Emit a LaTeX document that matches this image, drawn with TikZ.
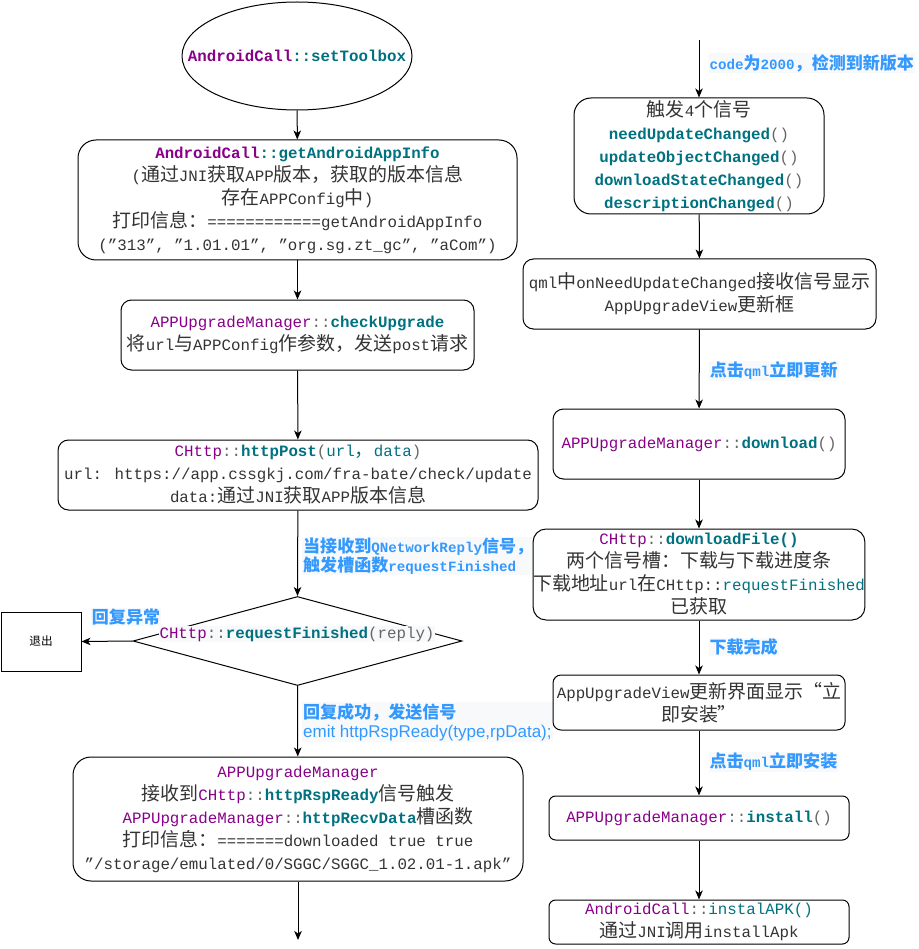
\documentclass[tikz,border=0pt]{standalone}
\usepackage{fontspec}
\usetikzlibrary{arrows.meta,shapes.geometric}
\setmainfont{Liberation Mono}
\newfontfamily\cjk{Noto Sans CJK SC}[Scale=1.2]
\newfontfamily\sansf{Liberation Sans}

% Automatic switch to the CJK family for ideographs and full-width punctuation
\newXeTeXintercharclass\CJKcls
\newcount\cjkc
\def\setcjkrange#1#2{\cjkc=#1\relax
  \loop\XeTeXcharclass\cjkc=\CJKcls\relax
  \ifnum\cjkc<#2\relax\advance\cjkc by 1\repeat}
\setcjkrange{"3000}{"303F}
\setcjkrange{"4E00}{"9FFF}
\setcjkrange{"FF00}{"FFEF}
\makeatletter
\def\cjkon{\edef\latinfam{\f@family}\cjk}
\def\cjkoff{\fontfamily{\latinfam}\selectfont}
\makeatother
\XeTeXinterchartoks 0 \CJKcls = {\cjkon}
\XeTeXinterchartoks 4095 \CJKcls = {\cjkon}
\XeTeXinterchartoks \CJKcls 0 = {\cjkoff}
\XeTeXinterchartoks \CJKcls 4095 = {\cjkoff}
\XeTeXinterchartokenstate=1

\definecolor{cpurple}{HTML}{880088}
\definecolor{cteal}{HTML}{00717F}
\definecolor{ctext}{HTML}{333333}
\definecolor{cgray}{HTML}{666666}
\definecolor{cblue}{HTML}{3399FF}
\definecolor{lblbg}{HTML}{F8F9FA}

\newcommand{\kc}[1]{\textcolor{cpurple}{#1}}
\newcommand{\dcol}{\textcolor{cgray}{::}}
\newcommand{\mth}[1]{\textcolor{cteal}{\bfseries #1}}
\newcommand{\mtn}[1]{\textcolor{cteal}{#1}}
\newcommand{\gr}[1]{\textcolor{cgray}{#1}}
\newcommand{\wq}[1]{{\cjk #1}}

\tikzset{
  box/.style={draw=black, line width=1pt, inner sep=0pt, align=center,
    text=ctext, font=\fontsize{15.8}{23}\selectfont},
  rbox/.style={box, rounded corners=#1},
  arr/.style={line width=1pt, draw=black,
    -{Stealth[length=9pt,width=7.5pt,inset=2.5pt]}},
  elabel/.style={text=cblue, align=left, inner sep=1pt, fill=lblbg,
    font=\fontsize{14.2}{19}\selectfont\bfseries},
}

\begin{document}
\begin{tikzpicture}[x=1pt,y=-1pt]
\useasboundingbox (0,0) rectangle (918,949);

% ---------- left column ----------
\node[draw=black, line width=1pt, ellipse, minimum width=230, minimum height=108, inner sep=0pt]
  (start) at (297,56) {};
\node[font=\fontsize{15.8}{23}\selectfont\bfseries, inner sep=0pt] (starttxt) at (297,56)
  {\kc{AndroidCall}\mtn{::setToolbox}};

\node[rbox=18, minimum width=439, minimum height=120] (info) at (297.5,200)
  {\kc{\bfseries AndroidCall}\mth{::getAndroidAppInfo}\\
   (通过JNI获取APP版本，获取的版本信息\\
   存在APPConfig中)\\
   打印信息：============getAndroidAppInfo\\
   (”313”, ”1.01.01”, ”org.sg.zt\_gc”, ”aCom”)};

\node[rbox=10.5, minimum width=353, minimum height=70] (check) at (297.5,335)
  {\kc{APPUpgradeManager}\dcol\mth{checkUpgrade}\\
   将url与APPConfig作参数，发送post请求};

\node[rbox=10.5, minimum width=480, minimum height=70] (post) at (298,475)
  {\kc{CHttp}\dcol\mth{httpPost}\gr{(}\mtn{url，data}\gr{)}\\
   url: https://app.cssgkj.com/fra-bate/check/update\\
   data:通过JNI获取APP版本信息};

\node[draw=black, line width=1pt, diamond, minimum width=329, minimum height=89, inner sep=0pt]
  (fin) at (297.5,641) {};
\node[fill=lblbg, inner sep=1pt, text=ctext, font=\fontsize{15.8}{23}\selectfont] (fintxt) at (297,634)
  {\kc{CHttp}\dcol\mth{requestFinished}\gr{(reply)}};

\node[draw=black, line width=1pt, minimum width=80, minimum height=59, inner sep=0pt,
  font=\fontsize{9.7}{12}\selectfont] (quit) at (41,641.5) {退出};

\node[rbox=18, minimum width=450, minimum height=124] (recv) at (298,819)
  {\kc{APPUpgradeManager}\\
   接收到\kc{CHttp}\dcol\mth{httpRspReady}信号触发\\
   \kc{APPUpgradeManager}\dcol\mth{httpRecvData}槽函数\\
   打印信息：=======downloaded true true\\
   ”/storage/emulated/0/SGGC/SGGC\_1.02.01-1.apk”};
\coordinate (leftend) at (298,940);

\draw[arr] (start) -- (info);
\draw[arr] (info) -- (check);
\draw[arr] (check) -- (post);
\draw[arr] (post) -- node[pos=0.53, anchor=west, xshift=4pt, elabel]
  {当接收到QNetworkReply信号，\\触发槽函数requestFinished} (fin.north);
\draw[arr] (fin.west) -- node[midway, xshift=19pt, yshift=24pt, elabel] {回复异常} (quit.east);
\draw[arr] (fin.south) -- node[pos=0.51, anchor=west, xshift=4pt, elabel]
  {回复成功，发送信号\\{\sansf\mdseries\fontsize{17}{21}\selectfont emit httpRspReady(type,rpData);}} (recv);
\draw[arr] (recv) -- (leftend);

% ---------- right column ----------
\coordinate (rstart) at (699,40);

\node[rbox=17, minimum width=250, minimum height=116] (sig) at (699,156)
  {触发4个信号\\
   \mth{needUpdateChanged}\gr{()}\\
   \mth{updateObjectChanged}\gr{()}\\
   \mth{downloadStateChanged}\gr{()}\\
   \mth{descriptionChanged}\gr{()}};

\node[rbox=10.5, minimum width=353, minimum height=70] (qml) at (699.5,294)
  {qml中onNeedUpdateChanged接收信号显示\\
   AppUpgradeView更新框};

\node[rbox=10.5, minimum width=292, minimum height=70] (dl) at (699,444)
  {\kc{APPUpgradeManager}\dcol\mth{download}\gr{()}};

\node[rbox=13, minimum width=330, minimum height=91] (dlfile) at (699,574.5)
  {\kc{CHttp}\dcol\mth{downloadFile()}\\
   两个信号槽：下载与下载进度条\\
   下载地址url在CHttp::\mtn{requestFinished}\\
   已获取};

\node[rbox=8, minimum width=292, minimum height=55] (view) at (699,702.5)
  {AppUpgradeView更新界面显示\wq{“}立\\
   即安装\wq{”}};

\node[rbox=6.6, minimum width=300, minimum height=44] (inst) at (699,818)
  {\kc{APPUpgradeManager}\dcol\mth{install}\gr{()}};

\node[rbox=6.6, minimum width=300, minimum height=44] (apk) at (699,922)
  {\kc{AndroidCall}\dcol\mtn{instalAPK()}\\
   通过JNI调用installApk};

\draw[arr] (rstart) -- node[pos=0.4, anchor=west, xshift=9pt, elabel]
  {code为2000，检测到新版本} (sig);
\draw[arr] (sig) -- (qml);
\draw[arr] (qml) -- node[pos=0.525, anchor=west, xshift=9pt, elabel] {点击qml立即更新} (dl);
\draw[arr] (dl) -- (dlfile);
\draw[arr] (dlfile) -- node[pos=0.49, anchor=west, xshift=9pt, elabel] {下载完成} (view);
\draw[arr] (view) -- node[pos=0.485, anchor=west, xshift=9pt, elabel] {点击qml立即安装} (inst);
\draw[arr] (inst) -- (apk);
\end{tikzpicture}
\end{document}
